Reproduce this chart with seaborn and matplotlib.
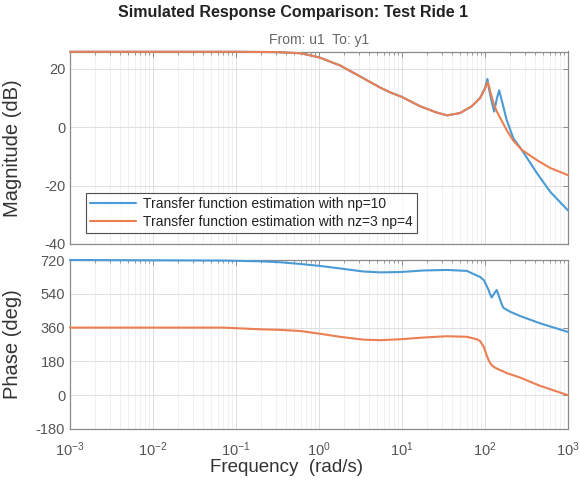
import numpy as np
import pandas as pd
import matplotlib
matplotlib.use("Agg")
import matplotlib.pyplot as plt
import matplotlib.ticker as mticker
import seaborn as sns

# ---------------- data ----------------
freq_mag = [0.001, 0.01, 0.1, 0.3, 0.6, 1.0, 1.8, 3.1, 5.4, 7.2, 10, 16.6, 26, 35, 50,
            69, 87, 100, 107, 112, 120, 129, 138, 148, 165, 182, 220, 277, 420, 607, 1000]
mag_np10 = [25.9, 25.9, 25.9, 25.8, 25.4, 24.0, 21.2, 17.5, 13.7, 12.0, 10.4, 7.2, 5.1, 4.1, 4.9,
            7.2, 10.0, 13.5, 16.6, 13.0, 9.0, 5.4, 9.5, 12.7, 7.5, 2.6, -3.8, -7.7, -15.6, -22.0, -28.5]
mag_nz3np4 = [25.9, 25.9, 25.9, 25.8, 25.4, 24.0, 21.2, 17.5, 13.7, 12.0, 10.4, 7.2, 5.1, 4.1, 4.9,
              7.2, 10.0, 13.2, 15.4, 14.0, 10.6, 7.6, 5.6, 3.9, 1.4, -0.9, -4.6, -7.7, -11.2, -13.9, -16.4]

freq_ph = [0.001, 0.0175, 0.07, 0.195, 0.34, 0.59, 1.0, 1.79, 3.39, 5.43, 9.6, 17.9, 34.6, 60.3,
           79.4, 87.1, 97.3, 100, 109.6, 114.8, 120.2, 131.8, 138.4, 158.9, 166, 182.4, 200, 264, 460, 1000]
ph_np10 = [720, 718, 717, 713, 708, 699, 689, 675, 659, 654, 656, 664, 667, 662,
           638, 630, 612, 600, 564, 540, 520, 548, 560, 485, 466, 455, 445, 422, 383, 337]
ph_nz3np4 = [360, 360, 360, 351, 348, 342, 328, 311, 296, 293, 298, 307, 314, 311,
             298, 289, 255, 238, 190, 174, 160, 147, 142, 130, 127, 118, 112, 94, 50, 0]

series_names = ["Transfer function estimation with np=10",
                "Transfer function estimation with nz=3 np=4"]
x_ticks = [1e-3, 1e-2, 1e-1, 1e0, 1e1, 1e2, 1e3]
mag_yticks = [-40, -20, 0, 20]
ph_yticks = [-180, 0, 180, 360, 540, 720]

title_text = "Simulated Response Comparison: Test Ride 1"
subtitle_text = "From: u1  To: y1"
mag_label = "Magnitude (dB)"
ph_label = "Phase (deg)"
x_label = "Frequency  (rad/s)"

# ---------------- tables ----------------
df_mag = pd.concat([
    pd.DataFrame({"freq": freq_mag, "val": mag_np10, "model": series_names[0]}),
    pd.DataFrame({"freq": freq_mag, "val": mag_nz3np4, "model": series_names[1]}),
])
df_ph = pd.concat([
    pd.DataFrame({"freq": freq_ph, "val": ph_np10, "model": series_names[0]}),
    pd.DataFrame({"freq": freq_ph, "val": ph_nz3np4, "model": series_names[1]}),
])

# ---------------- style ----------------
sns.set_theme(style="white")
plt.rcParams["font.family"] = ["Liberation Sans", "DejaVu Sans"]
plt.rcParams["mathtext.fontset"] = "custom"
plt.rcParams["mathtext.rm"] = "Liberation Sans"
plt.rcParams["mathtext.it"] = "Liberation Sans:italic"
plt.rcParams["mathtext.bf"] = "Liberation Sans:bold"
plt.rcParams["axes.unicode_minus"] = False

palette = {series_names[0]: "#4A9AD6", series_names[1]: "#EC7F52"}
tick_col = "#555555"
spine_col = "#8a8a8a"

fig = plt.figure(figsize=(5.8, 4.92), dpi=100)
L, R = 70 / 580, 568 / 580
ax_m = fig.add_axes([L, 1 - 244 / 492, R - L, (244 - 51.5) / 492])
ax_p = fig.add_axes([L, 1 - 429 / 492, R - L, (429 - 260) / 492])

sns.lineplot(data=df_mag, x="freq", y="val", hue="model", palette=palette,
             ax=ax_m, linewidth=1.5, sort=False, legend=True, zorder=4)
sns.lineplot(data=df_ph, x="freq", y="val", hue="model", palette=palette,
             ax=ax_p, linewidth=1.5, sort=False, legend=False, zorder=4)

for ax in (ax_m, ax_p):
    for ln in ax.get_lines():
        ln.set_clip_on(False)
        ln.set_zorder(4)
    ax.set_xscale("log")
    ax.set_xlim(1e-3, 1e3)
    ax.set_xticks(x_ticks)
    ax.xaxis.set_minor_locator(mticker.LogLocator(base=10, subs=np.arange(2, 10), numticks=100))
    ax.grid(True, which="major", color="#dedede", linewidth=0.7)
    ax.grid(True, which="minor", axis="x", color="#eeeeee", linewidth=0.6)
    ax.set_axisbelow(True)
    ax.tick_params(which="both", direction="in", top=True, right=True,
                   colors=spine_col, labelcolor=tick_col, labelsize=10.5)
    ax.tick_params(which="major", length=3.5, width=0.7)
    ax.tick_params(which="minor", length=2, width=0.6)
    for s in ax.spines.values():
        s.set_color(spine_col)
        s.set_linewidth(0.9)
    ax.set_xlabel("")
    ax.set_ylabel("")

ax_m.set_ylim(-40, 26)
ax_m.set_yticks(mag_yticks)
ax_m.tick_params(axis="x", labelbottom=False)
ax_p.set_ylim(-180, 720)
ax_p.set_yticks(ph_yticks)
ax_p.tick_params(axis="x", pad=8)

ax_m.set_ylabel(mag_label, fontsize=14.5, color="#333333")
ax_p.set_ylabel(ph_label, fontsize=14.5, color="#333333")
ax_m.yaxis.set_label_coords(-0.097, 0.5)
ax_p.yaxis.set_label_coords(-0.097, 0.5)

leg = ax_m.legend(loc="lower left", bbox_to_anchor=(0.032, 0.057), borderaxespad=0,
                  frameon=True, fancybox=False, fontsize=10, handlelength=3.3,
                  handletextpad=0.5, borderpad=0.3, labelspacing=0.3)
leg.set_zorder(6)
leg.get_frame().set_edgecolor("#222222")
leg.get_frame().set_linewidth(0.8)
for t in leg.get_texts():
    t.set_color("#222222")

fig.text(293 / 580, 1 - 13 / 492, title_text, ha="center", va="center",
         fontsize=11.5, fontweight="bold", color="#222222")
fig.text(0.5 * (L + R), 1 - 40 / 492, subtitle_text, ha="center", va="center",
         fontsize=10, color="#666666")
fig.text(286 / 580, 1 - 468 / 492, x_label, ha="center", va="center",
         fontsize=13.5, color="#333333")

fig.savefig("out.png", dpi=100)
